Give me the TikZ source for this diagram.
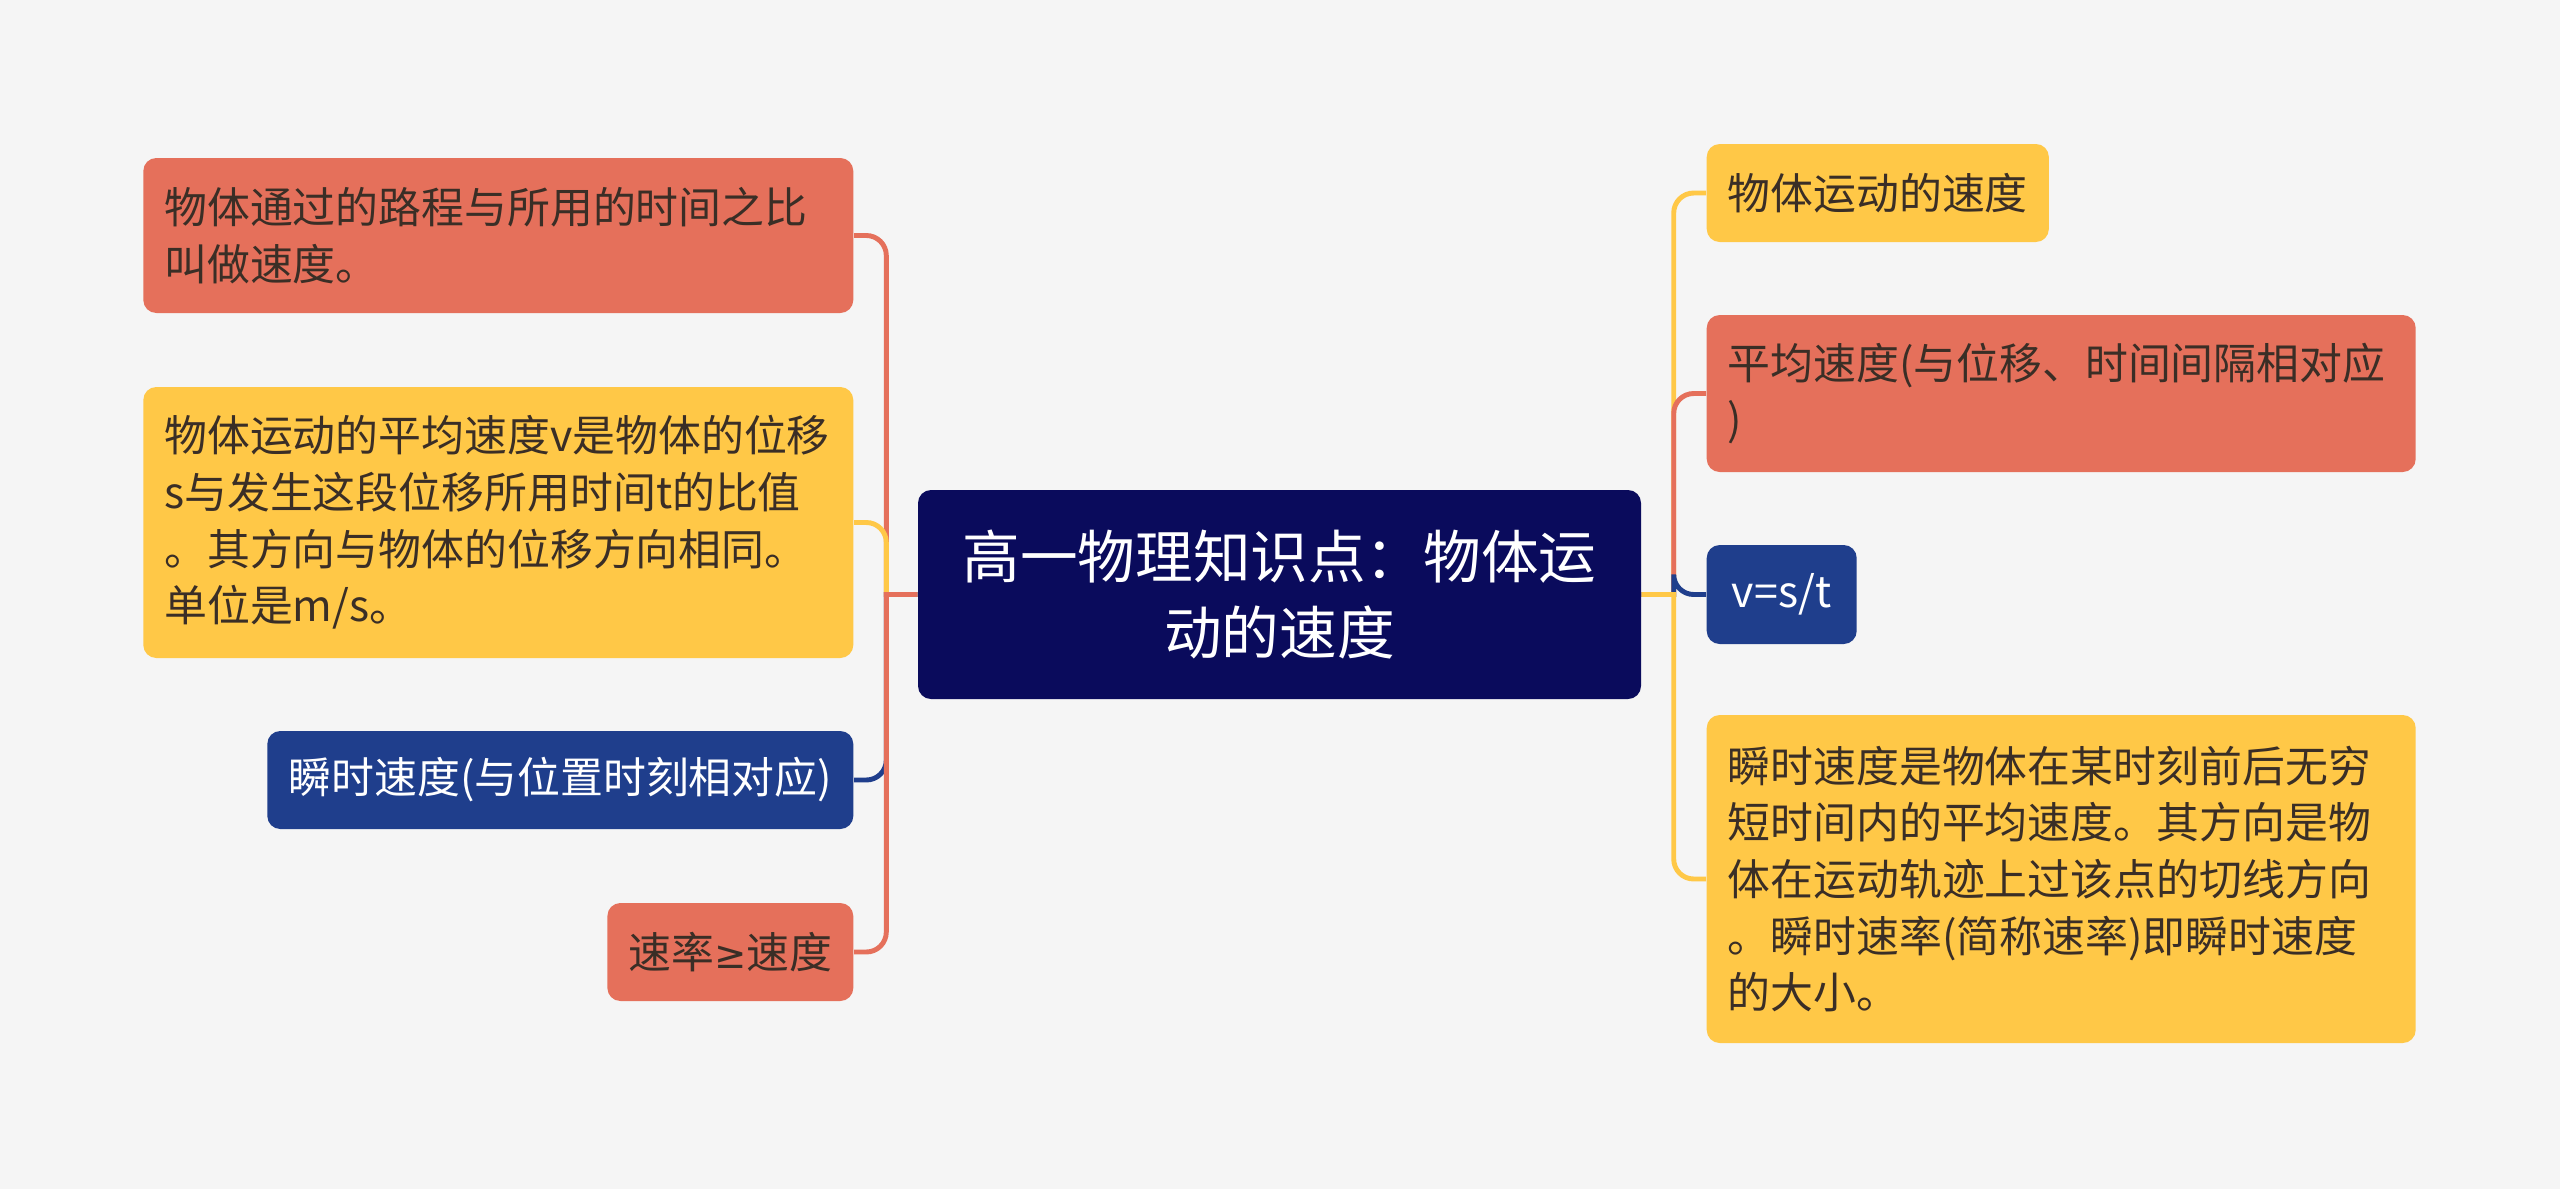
\documentclass[tikz,border=0pt]{standalone}
\usepackage{fontspec}
\setmainfont{Noto Sans CJK SC}
\newfontfamily\symfont{DejaVu Sans}
\usepackage{xcolor}
\usepackage{tikz}

\definecolor{mmbg}{HTML}{F5F5F5}
\definecolor{mmred}{HTML}{E5705B}
\definecolor{mmyellow}{HTML}{FFC847}
\definecolor{mmblue}{HTML}{1F3E8C}
\definecolor{mmnavy}{HTML}{0A0B5C}
\definecolor{mmtext}{HTML}{3A2E26}

\newcommand{\leaffont}{\fontsize{12.2pt}{16.1pt}\selectfont}
\newcommand{\hubfont}{\fontsize{16.4pt}{21.5pt}\selectfont}

\tikzset{
    leaf/.style={rectangle, rounded corners=0.13cm, inner xsep=0.21cm,
        inner ysep=0pt, font=\leaffont},
    redleaf/.style={leaf, fill=mmred, text=mmtext},
    yellowleaf/.style={leaf, fill=mmyellow, text=mmtext},
    blueleaf/.style={leaf, fill=mmblue, text=white},
    branch/.style={draw=#1, line width=1.4pt}
}

\begin{document}
\begin{tikzpicture}
    \def\leftx{8.54}
    \def\rightx{17.06}

    \fill[mmbg] (0,0) rectangle (25.6,-11.89);

    % central topic
    \node[rectangle, rounded corners=0.13cm, fill=mmnavy, text=white,
        font=\hubfont, align=center, minimum width=7.23cm,
        minimum height=2.09cm, inner sep=0pt]
        (hub) at (12.795,-5.945) {高一物理知识点：物体运\\动的速度};

    \coordinate (ltrunk) at ([xshift=-0.31cm]hub.west);
    \coordinate (rtrunk) at ([xshift=0.32cm]hub.east);

    % left side
    \node[redleaf, anchor=east, text width=6.68cm, align=left,
        minimum height=1.55cm] (L1) at (\leftx,-2.355)
        {物体通过的路程与所用的时间之比\\叫做速度。};
    \node[yellowleaf, anchor=east, text width=6.68cm, align=left,
        minimum height=2.71cm] (L2) at (\leftx,-5.225)
        {物体运动的平均速度v是物体的位移\\s与发生这段位移所用时间t的比值\\。其方向与物体的位移方向相同。\\单位是m/s。};
    \node[blueleaf, anchor=east, minimum width=5.86cm,
        minimum height=0.98cm] (L3) at (\leftx,-7.80)
        {瞬时速度(与位置时刻相对应)};
    \node[redleaf, anchor=east, minimum width=2.45cm,
        minimum height=0.98cm] (L4) at (\leftx,-9.52)
        {速率{\symfont\fontsize{11pt}{16.1pt}\selectfont ≥}速度};

    % right side
    \node[yellowleaf, anchor=west, minimum width=3.41cm,
        minimum height=0.98cm] (R1) at (\rightx,-1.93)
        {物体运动的速度};
    \node[redleaf, anchor=west, text width=6.67cm, align=left,
        minimum height=1.57cm] (R2) at (\rightx,-3.935)
        {平均速度(与位移、时间间隔相对应\\)};
    \node[blueleaf, anchor=west, minimum width=1.50cm,
        minimum height=0.99cm] (R3) at (\rightx,-5.945)
        {v=s/t};
    \node[yellowleaf, anchor=west, text width=6.67cm, align=left,
        minimum height=3.28cm] (R4) at (\rightx,-8.79)
        {瞬时速度是物体在某时刻前后无穷\\短时间内的平均速度。其方向是物\\体在运动轨迹上过该点的切线方向\\。瞬时速率(简称速率)即瞬时速度\\的大小。};

    % connectors
    \foreach \child/\col in {L1/mmred,L2/mmyellow,L3/mmblue,L4/mmred} {
        \draw[branch=\col] (hub.west) -- (ltrunk)
            [rounded corners=0.2cm] |- (\child.east);
    }
    \foreach \child/\col in {R1/mmyellow,R2/mmred,R3/mmblue,R4/mmyellow} {
        \draw[branch=\col] (hub.east) -- (rtrunk)
            [rounded corners=0.2cm] |- (\child.west);
    }
\end{tikzpicture}
\end{document}
